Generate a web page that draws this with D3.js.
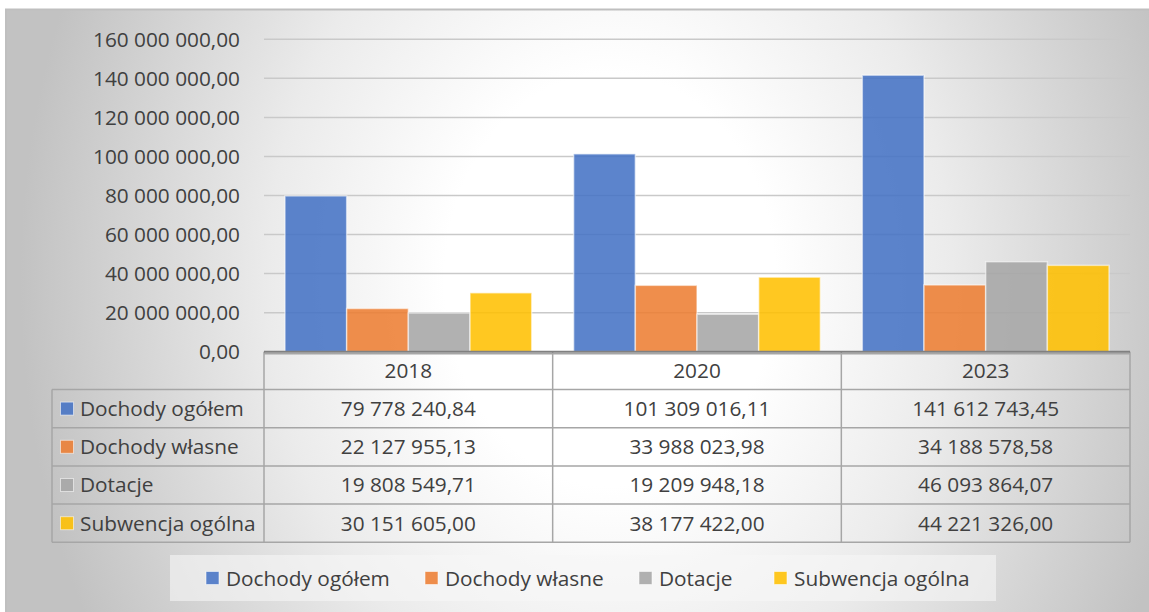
<!DOCTYPE html>
<html>
<head>
<meta charset="utf-8">
<script src="https://cdn.jsdelivr.net/npm/d3@7"></script>
<style>
  body { margin: 0; background: #fff; }
  text { font-family: "Open Sans", sans-serif; fill: #404040; font-size: 20.8px; }
</style>
</head>
<body>
<div id="chart"></div>
<script>
// Data
const years = ["2018", "2020", "2023"];
const seriesNames = ["Dochody ogółem", "Dochody własne", "Dotacje", "Subwencja ogólna"];
const dochodyOgolem = [79778240.84, 101309016.11, 141612743.45];
const dochodyWlasne = [22127955.13, 33988023.98, 34188578.58];
const dotacje = [19808549.71, 19209948.18, 46093864.07];
const subwencja = [30151605.00, 38177422.00, 44221326.00];
const yTicks = [0, 20e6, 40e6, 60e6, 80e6, 100e6, 120e6, 140e6, 160e6];

const seriesValues = [dochodyOgolem, dochodyWlasne, dotacje, subwencja];
const colors = ["#4472C4", "#ED7D31", "#A5A5A5", "#FFC000"];

const W = 1149, H = 612;
const plot = { left: 264, right: 1130, top: 39.3, bottom: 351.7 };
const table = { left: 52, headerBottom: 389.5, rowH: 38.2 };

// Polish number format: "160 000 000,00"
const pl = d3.formatLocale({ decimal: ",", thousands: " ", grouping: [3], currency: ["", ""] });
const fmt = pl.format(",.2f");

const svg = d3.select("#chart")
  .append("svg")
    .attr("width", W)
    .attr("height", H);

// background radial gradient
const defs = svg.append("defs");
const grad = defs.append("radialGradient")
  .attr("id", "bg")
  .attr("gradientUnits", "userSpaceOnUse")
  .attr("cx", 610).attr("cy", 280).attr("r", 590)
  .attr("gradientTransform", "translate(610,280) scale(1,1.25) translate(-610,-280)");
grad.append("stop").attr("offset", 0).attr("stop-color", "#ffffff");
grad.append("stop").attr("offset", 0.28).attr("stop-color", "#ffffff");
grad.append("stop").attr("offset", 0.58).attr("stop-color", "#ebebeb");
grad.append("stop").attr("offset", 1).attr("stop-color", "#c2c2c2");

svg.append("rect")
  .attr("x", 6).attr("y", 9.5)
  .attr("width", W + 20).attr("height", H + 20)
  .attr("fill", "url(#bg)")
  .attr("stroke", "#bfbfbf")
  .attr("stroke-width", 2);

// scales
const y = d3.scaleLinear().domain([0, 160e6]).range([plot.bottom, plot.top]);
const x = d3.scaleBand().domain(years).range([plot.left, plot.right]);
const xs = d3.scaleBand().domain(seriesNames).range([0, x.bandwidth()]).paddingOuter(0.34);

// gridlines
svg.append("g")
  .selectAll("line")
  .data(yTicks.filter(d => d > 0))
  .join("line")
    .attr("x1", plot.left).attr("x2", plot.right)
    .attr("y1", d => y(d)).attr("y2", d => y(d))
    .attr("stroke", "#c9c9c9")
    .attr("stroke-width", 1.5);

// y tick labels
svg.append("g")
  .selectAll("text")
  .data(yTicks)
  .join("text")
    .attr("x", 240)
    .attr("y", d => y(d))
    .attr("dy", "0.36em")
    .attr("text-anchor", "end")
    .text(d => fmt(d));

// bars
const groups = svg.append("g")
  .selectAll("g")
  .data(seriesNames)
  .join("g")
    .attr("fill", (d, i) => colors[i]);

groups.selectAll("rect")
  .data((s, i) => years.map((yr, j) => ({ s, yr, v: seriesValues[i][j] })))
  .join("rect")
    .attr("x", d => x(d.yr) + xs(d.s))
    .attr("y", d => y(d.v))
    .attr("width", xs.bandwidth())
    .attr("height", d => y(0) - y(d.v))
    .attr("fill-opacity", 0.87)
    .attr("stroke", "#ffffff")
    .attr("stroke-opacity", 0.55)
    .attr("stroke-width", 1.5);

// data table
const tableG = svg.append("g");
const rowTop = i => table.headerBottom + i * table.rowH;
const lineColor = "#a6a6a6";

// header row (years)
tableG.selectAll(".hdr")
  .data(years)
  .join("text")
    .attr("class", "hdr")
    .attr("x", d => x(d) + x.bandwidth() / 2)
    .attr("y", (plot.bottom + table.headerBottom) / 2)
    .attr("dy", "0.36em")
    .attr("text-anchor", "middle")
    .text(d => d);

// row labels with markers
const rows = tableG.selectAll(".row")
  .data(seriesNames)
  .join("g")
    .attr("class", "row");

rows.append("rect")
  .attr("x", 60.5)
  .attr("y", (d, i) => rowTop(i) + table.rowH / 2 - 6.5)
  .attr("width", 13).attr("height", 13)
  .attr("fill", (d, i) => colors[i])
  .attr("fill-opacity", 0.87)
  .attr("stroke", "#fff")
  .attr("stroke-opacity", 0.55);

rows.append("text")
  .attr("x", 80)
  .attr("y", (d, i) => rowTop(i) + table.rowH / 2)
  .attr("dy", "0.36em")
  .text(d => d);

// values
rows.selectAll(".val")
  .data((s, i) => years.map((yr, j) => ({ yr, v: seriesValues[i][j], i })))
  .join("text")
    .attr("class", "val")
    .attr("x", d => x(d.yr) + x.bandwidth() / 2)
    .attr("y", d => rowTop(d.i) + table.rowH / 2)
    .attr("dy", "0.36em")
    .attr("text-anchor", "middle")
    .text(d => fmt(d.v));

// table grid lines
const tableBottom = rowTop(seriesNames.length);
const hLines = d3.range(seriesNames.length + 1).map(rowTop);
tableG.selectAll(".hl")
  .data(hLines)
  .join("line")
    .attr("x1", table.left).attr("x2", plot.right)
    .attr("y1", d => d).attr("y2", d => d)
    .attr("stroke", lineColor).attr("stroke-width", 1.5);

tableG.append("line")
  .attr("x1", plot.left).attr("x2", plot.right)
  .attr("y1", plot.bottom + 2).attr("y2", plot.bottom + 2)
  .attr("stroke", lineColor).attr("stroke-width", 1.5);

const vLines = years.map(d => x(d)).concat([plot.right]);
tableG.selectAll(".vl")
  .data(vLines)
  .join("line")
    .attr("x1", d => d).attr("x2", d => d)
    .attr("y1", plot.bottom).attr("y2", tableBottom)
    .attr("stroke", lineColor).attr("stroke-width", 1.5);

tableG.append("line")
  .attr("x1", table.left).attr("x2", table.left)
  .attr("y1", table.headerBottom).attr("y2", tableBottom)
  .attr("stroke", lineColor).attr("stroke-width", 1.5);

// category axis line
svg.append("line")
  .attr("x1", plot.left).attr("x2", plot.right)
  .attr("y1", plot.bottom).attr("y2", plot.bottom)
  .attr("stroke", "#808080")
  .attr("stroke-width", 2);

// legend
const legend = svg.append("g");
legend.append("rect")
  .attr("x", 170).attr("y", 555)
  .attr("width", 826).attr("height", 46)
  .attr("fill", "#f7f7f7")
  .attr("fill-opacity", 0.6);

const legendX = [206, 425, 639, 774];
const items = legend.selectAll(".item")
  .data(seriesNames)
  .join("g")
    .attr("class", "item")
    .attr("transform", (d, i) => `translate(${legendX[i]}, 578)`);

items.append("rect")
  .attr("x", 0).attr("y", -6.5)
  .attr("width", 13).attr("height", 13)
  .attr("fill", (d, i) => colors[i])
  .attr("fill-opacity", 0.87)
  .attr("stroke", "#fff")
  .attr("stroke-opacity", 0.55);

items.append("text")
  .attr("x", 20)
  .attr("dy", "0.36em")
  .text(d => d);
</script>
</body>
</html>
